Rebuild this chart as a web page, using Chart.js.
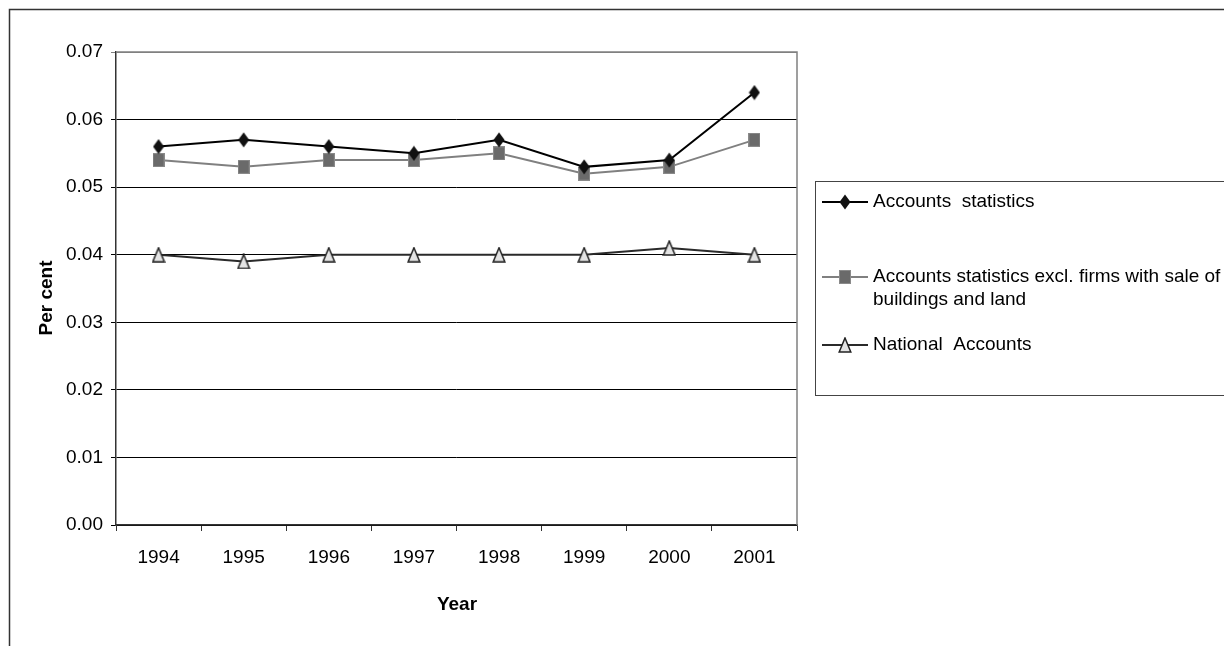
<!DOCTYPE html>
<html>
<head>
<meta charset="utf-8">
<script src="https://cdn.jsdelivr.net/npm/chart.js@4.4.1/dist/chart.umd.min.js"></script>
<style>
  body { margin: 0; background: #fff; }
  #wrap { position: relative; width: 1224px; height: 646px; }
</style>
</head>
<body>
<div id="wrap"><canvas id="chart" width="1224" height="646"></canvas></div>
<script>
// data
const years = ["1994", "1995", "1996", "1997", "1998", "1999", "2000", "2001"];
const accountsStats = [0.056, 0.057, 0.056, 0.055, 0.057, 0.053, 0.054, 0.064];
const accountsExcl = [0.054, 0.053, 0.054, 0.054, 0.055, 0.052, 0.053, 0.057];
const nationalAccounts = [0.040, 0.039, 0.040, 0.040, 0.040, 0.040, 0.041, 0.040];
const yTickLabels = ["0.00", "0.01", "0.02", "0.03", "0.04", "0.05", "0.06", "0.07"];
const seriesNames = [
  ["Accounts  statistics"],
  ["Accounts statistics excl. firms with sale of", "buildings and land"],
  ["National  Accounts"]
];
const xTitle = "Year";
const yTitle = "Per cent";

const FONT = "'Liberation Sans', Arial, sans-serif";
Chart.defaults.font.family = FONT;
Chart.defaults.font.size = 19;
Chart.defaults.color = "#000";

// marker images
function makeMarker(type) {
  const c = document.createElement("canvas");
  const g = c.getContext("2d");
  if (type === "diamond") {
    c.width = 12; c.height = 16;
    g.beginPath();
    g.moveTo(6, 0.5); g.lineTo(11.5, 8); g.lineTo(6, 15.5); g.lineTo(0.5, 8);
    g.closePath();
    g.fillStyle = "#111";
    g.fill();
  } else if (type === "square") {
    c.width = 12; c.height = 14;
    g.fillStyle = "#6a6a6a";
    g.fillRect(0, 0, 12, 14);
    g.strokeStyle = "#8a8a8a";
    g.lineWidth = 1;
    g.strokeRect(0.5, 0.5, 11, 13);
  } else {
    c.width = 14; c.height = 16;
    g.beginPath();
    g.moveTo(7, 1); g.lineTo(12.8, 15); g.lineTo(1.2, 15);
    g.closePath();
    g.fillStyle = "#e4e4e4";
    g.fill();
    g.strokeStyle = "#222";
    g.lineWidth = 1.5;
    g.stroke();
  }
  return c;
}

const markers = [makeMarker("diamond"), makeMarker("square"), makeMarker("triangle")];
const lineColors = ["#000000", "#808080", "#2a2a2a"];

const extras = {
  id: "extras",
  beforeDatasetsDraw(chart) {
    const { ctx, chartArea: a } = chart;
    ctx.save();
    ctx.strokeStyle = "#808080";
    ctx.lineWidth = 1.5;
    ctx.beginPath();
    ctx.moveTo(a.left, a.top);
    ctx.lineTo(a.right, a.top);
    ctx.lineTo(a.right, a.bottom);
    ctx.stroke();
    ctx.restore();
  },
  afterDraw(chart) {
    const ctx = chart.ctx;
    ctx.save();
    // outer frame
    ctx.strokeStyle = "#333";
    ctx.lineWidth = 1.5;
    ctx.beginPath();
    ctx.moveTo(9.5, 646);
    ctx.lineTo(9.5, 9.5);
    ctx.lineTo(1224, 9.5);
    ctx.stroke();

    // axis titles
    ctx.fillStyle = "#000";
    ctx.font = "bold 19px " + FONT;
    ctx.textAlign = "center";
    ctx.textBaseline = "middle";
    ctx.fillText(xTitle, 457, 605);
    ctx.save();
    ctx.translate(47, 298);
    ctx.rotate(-Math.PI / 2);
    ctx.fillText(yTitle, 0, 0);
    ctx.restore();

    // legend
    ctx.strokeStyle = "#444";
    ctx.lineWidth = 1;
    ctx.strokeRect(815.5, 181.5, 420, 214);
    const rows = [202, 277, 345];
    ctx.font = "19px " + FONT;
    ctx.textAlign = "left";
    seriesNames.forEach((lines, i) => {
      const y = rows[i];
      ctx.strokeStyle = lineColors[i];
      ctx.lineWidth = 2;
      ctx.beginPath();
      ctx.moveTo(822, y);
      ctx.lineTo(868, y);
      ctx.stroke();
      const m = markers[i];
      ctx.drawImage(m, Math.round(845 - m.width / 2), Math.round(y - m.height / 2));
      ctx.fillStyle = "#000";
      lines.forEach((t, j) => ctx.fillText(t, 873, y + j * 23));
    });
    ctx.restore();
  }
};

function dataset(label, data, i) {
  return {
    label: label,
    data: data,
    borderColor: lineColors[i],
    backgroundColor: lineColors[i],
    borderWidth: 2,
    pointStyle: markers[i],
    pointRadius: 7,
    pointHoverRadius: 7,
    tension: 0,
    fill: false
  };
}

new Chart(document.getElementById("chart"), {
  type: "line",
  data: {
    labels: years,
    datasets: [
      dataset(seriesNames[0].join(" "), accountsStats, 0),
      dataset(seriesNames[1].join(" "), accountsExcl, 1),
      dataset(seriesNames[2].join(" "), nationalAccounts, 2)
    ]
  },
  options: {
    responsive: false,
    animation: false,
    layout: { padding: { left: 9, top: 52, right: 427, bottom: 0 } },
    plugins: {
      legend: { display: false },
      tooltip: { enabled: false }
    },
    scales: {
      x: {
        offset: true,
        afterFit(scale) { scale.height = 121; },
        grid: {
          offset: true,
          drawOnChartArea: false,
          drawTicks: true,
          tickLength: 6,
          color: "#333"
        },
        border: { color: "#333", width: 1.5 },
        ticks: { padding: 15, color: "#000", maxRotation: 0, autoSkip: false }
      },
      y: {
        min: 0,
        max: 0.07,
        afterFit(scale) { scale.width = 107; },
        grid: {
          color: (c) => (c.tick && c.tick.value > 0.0695 ? "#808080" : "#000"),
          lineWidth: 1,
          tickLength: 5,
          drawTicks: true
        },
        border: { color: "#333", width: 1.5 },
        ticks: {
          stepSize: 0.01,
          padding: 8,
          color: "#000",
          callback: (v, i) => yTickLabels[i]
        }
      }
    }
  },
  plugins: [extras]
});
</script>
</body>
</html>
